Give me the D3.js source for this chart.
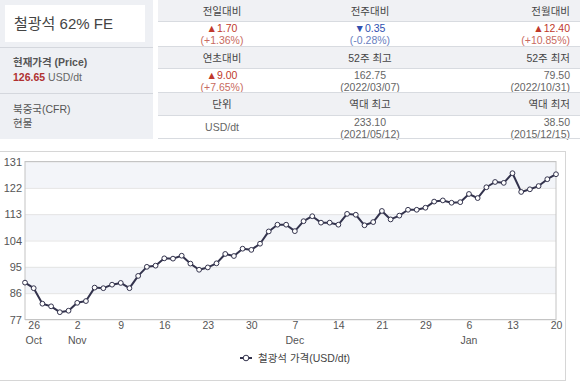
<!DOCTYPE html>
<html>
<head>
<meta charset="utf-8">
<script src="https://cdn.jsdelivr.net/npm/d3@7"></script>
<style>
  body { margin: 0; background: #fff; }
  svg { display: block; font-family: "Liberation Sans", "Noto Sans CJK KR", sans-serif; }
</style>
</head>
<body>
<div id="chart"></div>
<script>
// iron ore price, daily (trading days), 2022-10-25 .. 2023-01-20
const prices = [89.6, 87.7, 82.4, 81.5, 79.5, 80.0, 82.7, 83.3, 87.9, 87.7,
  88.9, 89.5, 87.7, 91.9, 95.0, 95.4, 97.9, 97.8, 98.8, 96.1,
  94.0, 94.8, 96.2, 99.4, 98.7, 101.2, 100.8, 102.9, 107.1, 109.4,
  109.4, 107.2, 110.6, 112.3, 110.1, 110.1, 109.4, 113.1, 112.8, 109.2,
  110.3, 114.1, 111.2, 112.5, 114.5, 114.5, 115.2, 117.3, 117.7, 116.9,
  117.1, 119.9, 118.5, 122.2, 124.0, 123.7, 127.0, 120.6, 121.5, 122.6,
  124.95, 126.65];
const tickIdx = [1, 6, 11, 16, 21, 26, 31, 36, 41, 46, 51, 56, 61];
const tickLabels = ["26", "2", "9", "16", "23", "30", "7", "14", "21", "29", "6", "13", "20"];
const monthIdx = [1, 6, 31, 51];
const monthLabels = ["Oct", "Nov", "Dec", "Jan"];
const yTicks = [77, 86, 95, 104, 113, 122, 131];

// summary table
const headRows = [["전일대비", "전주대비", "전월대비"], ["연초대비", "52주 최고", "52주 최저"], ["단위", "역대 최고", "역대 최저"]];
const valRows = [
  [["▲1.70", "(+1.36%)", "up"], ["▼0.35", "(-0.28%)", "down"], ["▲12.40", "(+10.85%)", "up"]],
  [["▲9.00", "(+7.65%)", "up"], ["162.75", "(2022/03/07)", "flat"], ["79.50", "(2022/10/31)", "flat"]],
  [["USD/dt", "", "flat"], ["233.10", "(2021/05/12)", "flat"], ["38.50", "(2015/12/15)", "flat"]]
];

const W = 580, H = 389;
const svg = d3.select("#chart").append("svg").attr("width", W).attr("height", H);

// ---- left info panel
svg.append("rect").attr("x", 0).attr("y", 0).attr("width", 153).attr("height", 139).attr("fill", "#eef0f4");
svg.append("rect").attr("x", 5).attr("y", 5).attr("width", 140).attr("height", 37).attr("fill", "#fff");
svg.append("text").attr("x", 14).attr("y", 29).attr("font-size", 15).attr("fill", "#444").text("철광석 62% FE");
[47, 93].forEach(y => svg.append("line").attr("x1", 0).attr("x2", 153).attr("y1", y + 0.5).attr("y2", y + 0.5).attr("stroke", "#d4d7dd"));
svg.append("text").attr("x", 13).attr("y", 66).attr("font-size", 10.5).attr("font-weight", "bold").attr("fill", "#555").text("현재가격 (Price)");
const pt = svg.append("text").attr("x", 13).attr("y", 81).attr("font-size", 10.5);
pt.append("tspan").attr("font-weight", "bold").attr("fill", "#b03030").text("126.65");
pt.append("tspan").attr("fill", "#666").text(" USD/dt");
svg.append("text").attr("x", 13).attr("y", 113).attr("font-size", 10.5).attr("fill", "#555").text("북중국(CFR)");
svg.append("text").attr("x", 13).attr("y", 127).attr("font-size", 10.5).attr("fill", "#555").text("현물");

// ---- right table
const tx0 = 158, tx1 = 580;
const rowY = [0, 22, 47, 69, 93, 116, 139];
const colX = [222, 370, 570];
const colAnchor = ["middle", "middle", "end"];
const colors = { up: ["#c0392b", "#c86a60"], down: ["#3050b0", "#6a80c0"], flat: ["#666", "#666"] };
for (let r = 0; r < 3; r++) {
  svg.append("rect").attr("x", tx0).attr("y", rowY[2 * r]).attr("width", tx1 - tx0)
    .attr("height", rowY[2 * r + 1] - rowY[2 * r]).attr("fill", "#f0f1f4");
  headRows[r].forEach((t, c) => svg.append("text").attr("x", colX[c]).attr("y", rowY[2 * r] + 15)
    .attr("text-anchor", colAnchor[c]).attr("font-size", 10.5).attr("fill", "#444").text(t));
  valRows[r].forEach((v, c) => {
    const y0 = rowY[2 * r + 1];
    const single = v[1] === "";
    svg.append("text").attr("x", colX[c]).attr("y", single ? y0 + 15 : y0 + 10)
      .attr("text-anchor", colAnchor[c]).attr("font-size", 10.5).attr("fill", colors[v[2]][0]).text(v[0]);
    if (!single) svg.append("text").attr("x", colX[c]).attr("y", y0 + 22)
      .attr("text-anchor", colAnchor[c]).attr("font-size", 10.5).attr("fill", colors[v[2]][1]).text(v[1]);
  });
}
rowY.slice(1).forEach(y => svg.append("line").attr("x1", tx0).attr("x2", tx1).attr("y1", y - 0.5).attr("y2", y - 0.5).attr("stroke", "#d8dbe0"));

// ---- chart box
svg.append("rect").attr("x", -1).attr("y", 151.5).attr("width", 566.5).attr("height", 229).attr("fill", "#fff").attr("stroke", "#d6d6d6");

const plot = { left: 25, right: 556, top: 161.5, bottom: 319.5 };
const x = d3.scaleLinear().domain([0, prices.length - 1]).range([plot.left, plot.right]);
const y = d3.scaleLinear().domain([77, 131]).range([plot.bottom, plot.top]);

// alternate bands
const bands = d3.pairs(yTicks).filter((d, i) => i % 2 === 1);
svg.selectAll(".band").data(bands).join("rect").attr("class", "band")
  .attr("x", plot.left).attr("width", plot.right - plot.left)
  .attr("y", d => y(d[1])).attr("height", d => y(d[0]) - y(d[1]))
  .attr("fill", "#f3f5f9");

svg.append("g").attr("transform", `translate(${plot.left},0)`)
  .call(d3.axisLeft(y).tickValues(yTicks).tickSize(-(plot.right - plot.left)).tickPadding(3))
  .call(g => g.select(".domain").remove())
  .call(g => g.selectAll(".tick line").attr("stroke", "#e4e4e4"))
  .call(g => g.selectAll(".tick text").attr("font-size", 11).attr("fill", "#555").attr("font-family", "Liberation Sans"));

svg.append("rect").attr("x", plot.left).attr("y", plot.top).attr("width", plot.right - plot.left)
  .attr("height", plot.bottom - plot.top).attr("fill", "none").attr("stroke", "#c4c4c4");

svg.append("g").attr("transform", `translate(0,${plot.bottom})`)
  .call(d3.axisBottom(x).tickValues(tickIdx).tickFormat((d, i) => tickLabels[i]).tickSize(0).tickPadding(2))
  .call(g => g.select(".domain").remove())
  .call(g => g.selectAll(".tick text").attr("font-size", 10.5).attr("fill", "#555").attr("font-family", "Liberation Sans"));

svg.selectAll(".month").data(monthIdx).join("text").attr("class", "month")
  .attr("x", d => x(d)).attr("y", 344).attr("text-anchor", "middle")
  .attr("font-size", 10.5).attr("fill", "#555").text((d, i) => monthLabels[i]);

// line + markers
const line = d3.line().x((d, i) => x(i)).y(d => y(d));
svg.append("path").datum(prices).attr("d", line).attr("fill", "none")
  .attr("stroke", "#33334d").attr("stroke-width", 2).attr("stroke-linejoin", "round");
svg.selectAll(".pt").data(prices).join("circle").attr("class", "pt")
  .attr("cx", (d, i) => x(i)).attr("cy", d => y(d)).attr("r", 2.4)
  .attr("fill", "#fff").attr("stroke", "#33334d").attr("stroke-width", 1);

// legend
const lg = svg.append("g").attr("transform", "translate(246,358)");
lg.append("line").attr("x1", -6).attr("x2", 6).attr("stroke", "#33334d").attr("stroke-width", 2);
lg.append("circle").attr("r", 2.8).attr("fill", "#fff").attr("stroke", "#33334d");
lg.append("text").attr("x", 12).attr("y", 4).attr("font-size", 10.5).attr("fill", "#444").text("철광석 가격(USD/dt)");
</script>
</body>
</html>
